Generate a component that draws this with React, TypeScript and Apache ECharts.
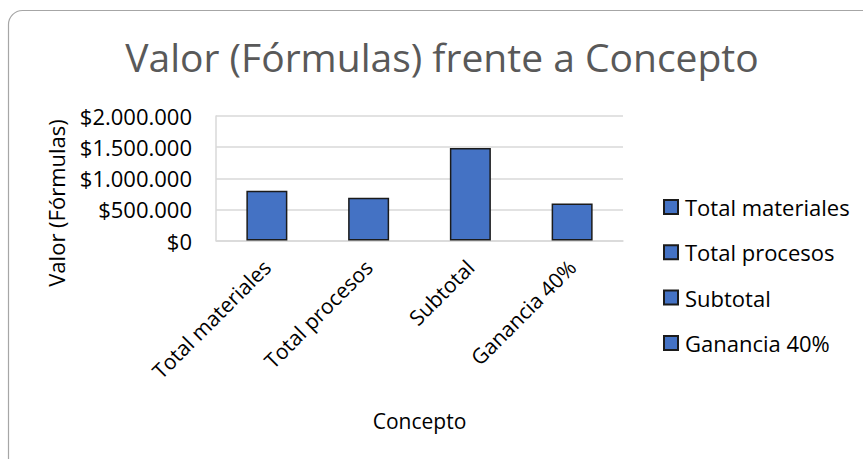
import React, { useEffect, useRef } from "react";
import * as echarts from "echarts";

const titleText = "Valor (Fórmulas) frente a Concepto";
const yAxisTitle = "Valor (Fórmulas)";
const xAxisTitle = "Concepto";
const categories = ["Total materiales", "Total procesos", "Subtotal", "Ganancia 40%"];
const values = [800000, 685000, 1485000, 594000];
const yTicks = [0, 500000, 1000000, 1500000, 2000000];

const FONT = "Open Sans";

function fmtMoney(v: number): string {
  const s = Math.round(v).toString().replace(/\B(?=(\d{3})+(?!\d))/g, ".");
  return "$" + s;
}

export default function App() {
  const ref = useRef<HTMLDivElement>(null);
  useEffect(() => {
    document.body.style.margin = "0";
    if (!ref.current) return;
    const chart = echarts.init(ref.current, null, { renderer: "svg" });
    const series = categories.map((name, i) => ({
      name,
      type: "bar",
      stack: "all",
      barWidth: 41,
      data: values.map((v, j) => (j === i ? v : null)),
      itemStyle: { color: "#4472C4", borderColor: "#1b1b1b", borderWidth: 1.5 },
    }));
    chart.setOption({
      animation: false,
      backgroundColor: "#ffffff",
      textStyle: { fontFamily: FONT },
      grid: { left: 216, right: 240, top: 116, bottom: 218.5, outerBoundsMode: "none", containLabel: false },
      xAxis: {
        type: "category",
        data: categories,
        axisTick: { show: false },
        axisLine: { lineStyle: { color: "#d9d9d9", width: 1.5 } },
        axisLabel: { rotate: 45, margin: 23, fontSize: 21, color: "#000", fontFamily: FONT, interval: 0 },
        name: xAxisTitle,
        nameLocation: "middle",
        nameGap: 180,
        nameTextStyle: { fontSize: 21, color: "#000", fontFamily: FONT, verticalAlign: "middle" },
      },
      yAxis: {
        type: "value",
        min: yTicks[0],
        max: yTicks[yTicks.length - 1],
        interval: yTicks[1] - yTicks[0],
        axisLine: { show: true, lineStyle: { color: "#d9d9d9", width: 1.5 } },
        axisTick: { show: false },
        splitLine: { lineStyle: { color: "#d9d9d9", width: 1.5 } },
        axisLabel: { formatter: (v: number) => fmtMoney(v), fontSize: 22, color: "#000", margin: 24, fontFamily: FONT },
      },
      legend: {
        orient: "vertical",
        left: 663,
        top: 196,
        padding: 0,
        itemWidth: 14,
        itemHeight: 14,
        itemGap: 23.3,
        icon: "rect",
        textStyle: { fontSize: 22, lineHeight: 22, color: "#000", fontFamily: FONT, padding: [0, 0, 0, 2] },
        data: categories,
      },
      graphic: [
        {
          type: "rect",
          shape: { x: 8.5, y: 10.5, width: 880, height: 470, r: 14 },
          style: { fill: "none", stroke: "#a6a6a6", lineWidth: 1.2 },
          silent: true,
        },
        {
          type: "text",
          x: 442,
          y: 56,
          style: { text: titleText, font: `39px '${FONT}'`, fill: "#595959", align: "center", verticalAlign: "middle" },
        },
        {
          type: "text",
          x: 56,
          y: 203,
          rotation: Math.PI / 2,
          style: { text: yAxisTitle, font: `22px '${FONT}'`, fill: "#000", align: "center", verticalAlign: "middle" },
        },
      ],
      series,
    });
    return () => chart.dispose();
  }, []);
  return <div ref={ref} style={{ width: 863, height: 459 }} />;
}
